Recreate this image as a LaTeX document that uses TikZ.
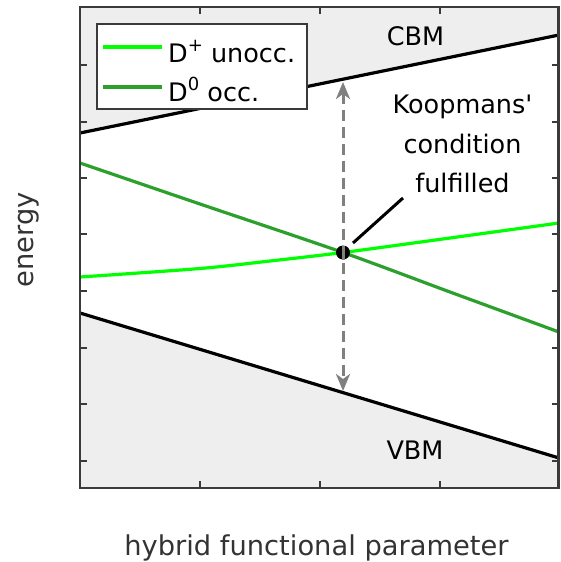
\documentclass[tikz,border=0pt]{standalone}
\usepackage{fontspec}
\setmainfont{DejaVu Sans}
\usetikzlibrary{arrows.meta}
\definecolor{bandfill}{HTML}{EEEEEE}
\definecolor{framecol}{HTML}{3A3A3A}
\definecolor{dplus}{HTML}{00FF00}
\definecolor{dzero}{HTML}{2CA02C}
\definecolor{arrowgray}{HTML}{808080}
\definecolor{labelcol}{HTML}{333333}
\newcommand{\mysup}[1]{\raisebox{11pt}{\fontsize{18}{18}\selectfont #1}}
\tikzset{
  txt/.style={font=\fontsize{25.5}{30}\selectfont, inner sep=0pt},
  axislabel/.style={font=\fontsize{27.3}{32}\selectfont, inner sep=0pt, text=labelcol},
  bandline/.style={line width=3.2pt, black},
  dplusline/.style={line width=3.2pt, dplus},
  dzeroline/.style={line width=3.2pt, dzero},
  frameline/.style={line width=2.8pt, framecol},
  tickline/.style={line width=2pt, framecol},
  gaparrow/.style={line width=3pt, arrowgray, dash pattern=on 11pt off 6pt,
     {Stealth[length=17pt,width=14pt,inset=5pt]}-{Stealth[length=17pt,width=14pt,inset=5pt]}},
  legendbox/.style={line width=2.4pt, framecol, fill=white},
}
\begin{document}
\begin{tikzpicture}[x=1pt,y=-1pt]
\useasboundingbox (0,0) rectangle (560,562);
% band regions
\fill[bandfill] (80,7) -- (559,7) -- (559,35) -- (80,133) -- cycle;
\fill[bandfill] (80,313) -- (559,458) -- (559,488) -- (80,488) -- cycle;
% band edges
\draw[bandline] (80,133) -- (559,35);
\draw[bandline] (80,313) -- (559,458);
% defect levels
\draw[dzeroline] plot[smooth] coordinates {(80,163) (200,204) (343,252.5) (450,292) (559,332)};
\draw[dplusline] plot[smooth] coordinates {(80,277) (200,268.5) (270,261) (343,252.5) (450,238) (559,223)};
% Koopmans point
\node[circle, fill=black, inner sep=0pt, minimum size=14pt] (kp) at (343,252.5) {};
\coordinate (ctop) at (343,82);
\coordinate (vbot) at (343,391);
\draw[gaparrow] (ctop) -- (vbot);
\draw[line width=3pt, arrowgray] ([yshift=-7pt]kp.center) -- ([yshift=7pt]kp.center);
% annotation
\node[txt, anchor=base] (k1) at (462.5,113) {Koopmans\textquotesingle};
\node[txt, anchor=base] (k2) at (462.5,153) {condition};
\node[txt, anchor=base] (k3) at (462.5,192) {fulfilled};
\coordinate (pa) at (353,243);
\coordinate (pb) at (403,198);
\draw[line width=3pt, black] (pa) -- (pb);
% band labels
\node[txt, anchor=base] (cbm) at (415.5,45) {CBM};
\node[txt, anchor=base] (vbm) at (415,459) {VBM};
% frame and ticks
\draw[frameline] (80,7) rectangle (558.6,488);
\foreach \x in {200,320,440} {
  \draw[tickline] (\x,488) -- (\x,481);
  \draw[tickline] (\x,7) -- (\x,14);
}
\foreach \y in {65,122,178,234,291,348,404,461} {
  \draw[tickline] (80,\y) -- (87,\y);
  \draw[tickline] (558.6,\y) -- (551.6,\y);
}
% legend
\draw[legendbox] (97,24) rectangle (307,109);
\draw[dplusline] (103,47) -- (162,47);
\draw[dzeroline] (103,87) -- (162,87);
\node[txt, anchor=base west] (l1) at (168,62) {D\mysup{+} unocc.};
\node[txt, anchor=base west] (l2) at (168,101) {D\mysup{0} occ.};
% axis labels
\node[axislabel, rotate=90, anchor=base] (ylab) at (33,240) {energy};
\node[axislabel, anchor=base] (xlab) at (316.5,555) {hybrid functional parameter};
\end{tikzpicture}
\end{document}
